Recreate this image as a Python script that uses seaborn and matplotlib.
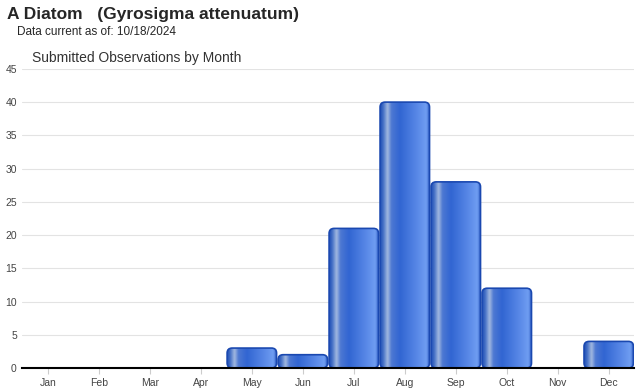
import numpy as np
import pandas as pd
import matplotlib
matplotlib.use("Agg")
import matplotlib.pyplot as plt
import seaborn as sns
from matplotlib.patches import FancyBboxPatch
from matplotlib.colors import LinearSegmentedColormap

# ── Data ──────────────────────────────────────────────────────────────────────
months = ["Jan", "Feb", "Mar", "Apr", "May", "Jun",
          "Jul", "Aug", "Sep", "Oct", "Nov", "Dec"]
counts = [0, 0, 0, 0, 3, 2, 21, 40, 28, 12, 0, 4]
y_ticks = [0, 5, 10, 15, 20, 25, 30, 35, 40, 45]

df = pd.DataFrame({"Month": months, "Count": counts})

sns.set_style("white")
plt.rcParams["font.family"] = ["Liberation Sans", "DejaVu Sans"]

fig = plt.figure(figsize=(6.4, 3.9), dpi=100)
ax = fig.add_axes([0.035, 0.0564, 0.956, 0.767])

sns.barplot(data=df, x="Month", y="Count", ax=ax, width=0.97,
            color="#3b6fd6", saturation=1)

# horizontal gradient to mimic the glossy cylinder look
grad = LinearSegmentedColormap.from_list("glossy", [
    (0.00, "#1c4cb4"), (0.07, "#4a74c8"), (0.15, "#a3b9e0"),
    (0.23, "#4d78d2"), (0.40, "#3165d2"), (0.80, "#5f8eea"),
    (0.93, "#709ef2"), (1.00, "#2a58c0")])
g = np.linspace(0, 1, 256).reshape(1, -1)

bars = list(ax.patches)
for bar in bars:
    x0, w, h = bar.get_x(), bar.get_width(), bar.get_height()
    bar.remove()
    if h <= 0:
        continue
    shape = FancyBboxPatch((x0, 0), w, h,
                           boxstyle="round,pad=0,rounding_size=0.1",
                           mutation_aspect=7.5, facecolor="none",
                           edgecolor="#1a48b0", linewidth=1.2, zorder=3)
    ax.add_patch(shape)
    img = ax.imshow(g, cmap=grad, aspect="auto", extent=(x0, x0 + w, 0, h),
                    zorder=2, interpolation="bicubic")
    img.set_clip_path(shape)

ax.set_xlim(-0.5, 11.5)
ax.set_ylim(0, 45)
ax.set_yticks(y_ticks)
ax.set_xlabel("")
ax.set_ylabel("")
ax.grid(axis="y", color="#e3e3e3", linewidth=0.8)
ax.set_axisbelow(True)
for s in ["top", "right", "left"]:
    ax.spines[s].set_visible(False)
ax.spines["bottom"].set_color("black")
ax.spines["bottom"].set_linewidth(1.5)
ax.spines["bottom"].set_zorder(4)
ax.tick_params(axis="y", length=0, labelsize=7.5, labelcolor="#444444", pad=4)
ax.tick_params(axis="x", length=4, color="#cccccc", labelsize=7.5,
               labelcolor="#444444", pad=3, bottom=True)

fig.text(7 / 640, 1 - 15 / 390, "A Diatom   (Gyrosigma attenuatum)",
         fontsize=12.5, fontweight="bold", va="center", ha="left")
fig.text(17 / 640, 1 - 32 / 390, "Data current as of: 10/18/2024",
         fontsize=8.5, va="center", ha="left")
fig.text(32 / 640, 1 - 58 / 390, "Submitted Observations by Month",
         fontsize=10, color="#333333", va="center", ha="left")

fig.savefig("out.png", dpi=100)
plt.close(fig)
